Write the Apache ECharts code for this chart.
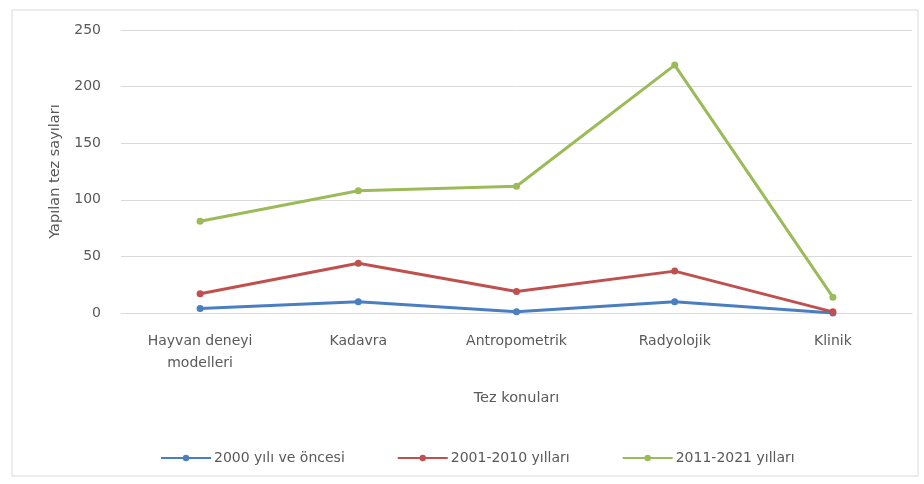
<!DOCTYPE html>
<html><head><meta charset="utf-8">
<script src="https://cdn.jsdelivr.net/npm/echarts@6/dist/echarts.min.js"></script>
<style>html,body{margin:0;padding:0;background:#fff}#c{width:924px;height:484px}</style>
</head><body><div id="c"></div>
<script>
const categories = ["Hayvan deneyi\nmodelleri", "Kadavra", "Antropometrik", "Radyolojik", "Klinik"];
const seriesNames = ["2000 yılı ve öncesi", "2001-2010 yılları", "2011-2021 yılları"];
const s2000 = [4, 10, 1, 10, 0];
const s2001 = [17, 44, 19, 37, 1];
const s2011 = [81, 108, 112, 219, 14];
const yTicks = [0, 50, 100, 150, 200, 250];
const colors = ["#4A7EC2", "#C0504D", "#9BBB59"];
const font = "'DejaVu Sans', 'Open Sans', sans-serif";
const chart = echarts.init(document.getElementById('c'));
const mk = (name, data, i) => ({
  name, type: 'line', data, symbol: 'circle', symbolSize: 7,
  lineStyle: {width: 3, color: colors[i]}, itemStyle: {color: colors[i]}
});
chart.setOption({
  animation: false,
  graphic: [{type: 'rect', shape: {x: 12, y: 10, width: 906, height: 466},
    style: {fill: 'none', stroke: '#d9d9d9', lineWidth: 1}}],
  grid: {left: 121, right: 12, top: 30, bottom: 171},
  legend: {top: 446, left: 155, itemWidth: 50, itemHeight: 8, itemGap: 52,
    textStyle: {color: '#595959', fontSize: 14, fontFamily: font, padding: [0, 0, 0, -2]},
    data: seriesNames},
  xAxis: {type: 'category', data: categories, boundaryGap: true,
    name: 'Tez konuları', nameLocation: 'middle', nameGap: 78,
    nameTextStyle: {color: '#595959', fontSize: 14.5, fontFamily: font},
    axisLine: {show: true, lineStyle: {color: '#d9d9d9'}}, axisTick: {show: false},
    axisLabel: {color: '#595959', fontSize: 14, fontFamily: font, margin: 17, lineHeight: 22}},
  yAxis: {type: 'value', min: yTicks[0], max: yTicks[yTicks.length-1], interval: 50,
    name: 'Yapılan tez sayıları', nameLocation: 'middle', nameGap: 58, nameRotate: 90,
    nameTextStyle: {color: '#595959', fontSize: 14.5, fontFamily: font},
    axisLine: {show: false}, axisTick: {show: false},
    splitLine: {lineStyle: {color: '#d9d9d9'}},
    axisLabel: {color: '#595959', fontSize: 14, fontFamily: font, margin: 20}},
  series: [mk(seriesNames[0], s2000, 0), mk(seriesNames[1], s2001, 1), mk(seriesNames[2], s2011, 2)]
});
</script></body></html>
